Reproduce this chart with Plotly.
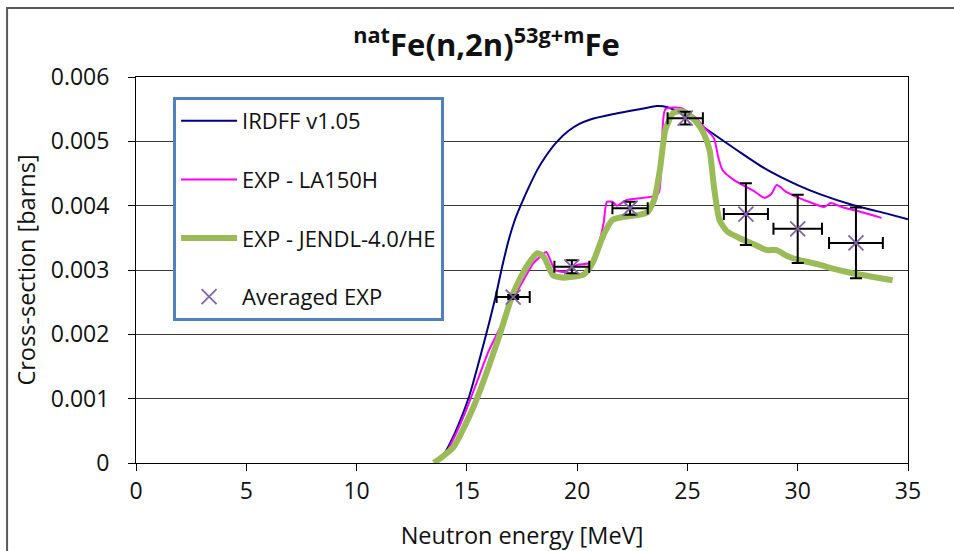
import plotly.graph_objects as go

# ---- data ----
irdff_e = [13.6, 14.0, 14.5, 15.1, 15.8, 16.3, 16.6, 16.9, 17.2, 17.5, 17.8, 18.2, 18.6, 19.1, 19.6, 20.1, 20.6, 21.6, 23.0, 23.6, 24.1, 25.0, 25.9, 27.3, 28.5, 30.0, 31.0, 32.5, 34.0, 35.0]
irdff_s = [0, 0.00016, 0.0005, 0.00103, 0.0019, 0.00258, 0.00305, 0.00347, 0.0038, 0.00405, 0.00428, 0.00456, 0.00478, 0.005, 0.00516, 0.00527, 0.00534, 0.00542, 0.00551, 0.00555, 0.00553, 0.00538, 0.00518, 0.00485, 0.00458, 0.00432, 0.00418, 0.00401, 0.00388, 0.00379]

la_e = [13.6, 14.0, 14.5, 15.0, 15.5, 16.0, 16.5, 17.0, 17.5, 18.0, 18.3, 18.6, 19.0, 19.4, 20.0, 20.6, 20.9, 21.2, 21.35, 21.6, 21.8, 22.25, 23.4, 23.7, 23.85, 24.0, 24.7, 25.4, 25.8, 26.2, 26.4, 26.6, 27.1, 27.5, 28.0, 28.5, 28.8, 29.05, 29.5, 30.0, 30.5, 31.2, 31.5, 32.0, 33.0, 33.8]
la_s = [0, 0.00012, 0.00045, 0.00085, 0.0013, 0.00175, 0.0021, 0.0025, 0.0028, 0.0031, 0.0032, 0.00328, 0.0030, 0.00297, 0.00308, 0.00311, 0.0033, 0.00373, 0.00406, 0.00406, 0.0040, 0.00409, 0.00414, 0.0042, 0.0050, 0.0055, 0.00552, 0.00536, 0.0052, 0.00505, 0.00475, 0.00455, 0.0044, 0.00432, 0.00423, 0.00412, 0.00418, 0.00432, 0.00421, 0.00413, 0.00406, 0.00398, 0.00404, 0.00398, 0.00389, 0.00381]

jendl_e = [13.5, 13.9, 14.4, 15.3, 16.4, 17.1, 17.7, 18.2, 18.5, 18.9, 19.4, 19.7, 20.3, 20.7, 21.2, 21.6, 22.0, 22.85, 23.2, 23.5, 23.75, 24.0, 24.35, 24.7, 25.0, 25.4, 25.7, 26.0, 26.2, 26.45, 26.8, 27.4, 28.0, 28.6, 29.05, 29.5, 30.0, 30.9, 31.5, 32.5, 33.3, 34.3]
jendl_s = [0, 0.0001, 0.00025, 0.00087, 0.0019, 0.00264, 0.00305, 0.00326, 0.0032, 0.00292, 0.00288, 0.00289, 0.00293, 0.00311, 0.00355, 0.00378, 0.00382, 0.00386, 0.0039, 0.0041, 0.00455, 0.00518, 0.00544, 0.00547, 0.00543, 0.0053, 0.00515, 0.00487, 0.0043, 0.00378, 0.0036, 0.00349, 0.0034, 0.00331, 0.00331, 0.00322, 0.00316, 0.00309, 0.00303, 0.00295, 0.0029, 0.00284]

avg_e = [17.1, 19.76, 22.4, 24.9, 27.65, 30.0, 32.64]
avg_s = [0.00258, 0.00305, 0.00396, 0.00536, 0.00387, 0.00364, 0.00342]
avg_de = [0.75, 0.79, 0.8, 0.8, 1.0, 1.1, 1.22]
avg_ds = [0.00003, 0.0001, 0.0001, 0.0001, 0.00048, 0.00053, 0.00055]

y_ticks = [0, 0.001, 0.002, 0.003, 0.004, 0.005, 0.006]
y_tick_text = ["0", "0.001", "0.002", "0.003", "0.004", "0.005", "0.006"]
x_ticks = [0, 5, 10, 15, 20, 25, 30, 35]

FONT = "Open Sans"
TXT = "#111111"

fig = go.Figure()
fig.add_trace(go.Scatter(x=irdff_e, y=irdff_s, mode="lines", name="IRDFF v1.05",
                         line=dict(color="#000080", width=2, shape="spline", smoothing=0.6),
                         legendgroup="a"))
fig.add_trace(go.Scatter(x=la_e, y=la_s, mode="lines", name="EXP - LA150H",
                         line=dict(color="#FF00FF", width=2, shape="spline", smoothing=0.6),
                         legendgroup="b"))
fig.add_trace(go.Scatter(x=jendl_e, y=jendl_s, mode="lines", name="EXP - JENDL-4.0/HE",
                         line=dict(color="#9BBB59", width=6, shape="spline", smoothing=0.6),
                         legendgroup="c"))
fig.add_trace(go.Scatter(x=avg_e, y=avg_s, mode="markers", name="Averaged EXP",
                         marker=dict(symbol="x-thin-open", size=15, color="#8064A2",
                                     line=dict(color="#8064A2", width=1.8)),
                         error_x=dict(type="data", array=avg_de, color="black", thickness=2, width=6),
                         error_y=dict(type="data", array=avg_ds, color="black", thickness=2, width=6),
                         legendgroup="d"))

fig.update_layout(
    width=954, height=551,
    margin=dict(l=136, r=46, t=77, b=88),
    paper_bgcolor="white", plot_bgcolor="white",
    font=dict(family=FONT, size=22, color=TXT),
    title=dict(text="<b><sup>nat</sup>Fe(n,2n)<sup>53g+m</sup>Fe</b>",
               x=0.51, xanchor="center", y=0.918, yanchor="middle",
               font=dict(family=FONT, size=31, color=TXT)),
    xaxis=dict(range=[0, 35], tickvals=x_ticks, showgrid=False, zeroline=False,
               showline=True, linecolor="black", linewidth=1, mirror=True,
               ticks="outside", ticklen=7, tickcolor="black", automargin=False,
               tickfont=dict(size=23, color=TXT),
               title=dict(text="Neutron energy [MeV]", font=dict(size=23.5, color=TXT), standoff=26)),
    yaxis=dict(range=[0, 0.006], tickvals=y_ticks, ticktext=y_tick_text,
               showgrid=True, gridcolor="#3a3a3a", gridwidth=1, zeroline=False,
               showline=True, linecolor="black", linewidth=1, mirror=True,
               ticks="outside", ticklen=7, tickcolor="black", ticklabelstandoff=14,
               automargin=False,
               tickfont=dict(size=23, color=TXT),
               title=dict(text="Cross-section [barns]", font=dict(size=23.5, color=TXT), standoff=8)),
    legend=dict(x=0.048, y=0.948, xanchor="left", yanchor="top",
                bgcolor="white", bordercolor="#4F81BD", borderwidth=3,
                font=dict(size=22, color=TXT), tracegroupgap=27, itemwidth=56),
    showlegend=True,
    shapes=[dict(type="rect", xref="paper", yref="paper",
                 x0=-0.167, x1=1.25, y0=-0.5, y1=1.179,
                 line=dict(color="#595959", width=2), fillcolor="rgba(0,0,0,0)", layer="below")],
)

fig.write_html("out.html")
